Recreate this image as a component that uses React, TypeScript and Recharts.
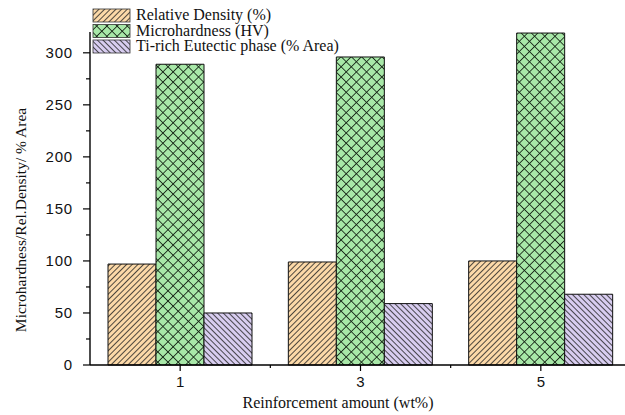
import React from "react";
import { BarChart, Bar, XAxis, YAxis } from "recharts";

// values
const amounts = [1, 3, 5];
const relativeDensity = [97, 99, 100];
const microhardness = [289, 296, 319];
const tiRichEutectic = [50, 59, 68];

const xTicks = [1, 2, 3, 4, 5];
const yTicks = [0, 25, 50, 75, 100, 125, 150, 175, 200, 225, 250, 275, 300];

const series = [
  { key: "density", name: "Relative Density (%)", pattern: "hatchUp" },
  { key: "hardness", name: "Microhardness (HV)", pattern: "crossHatch" },
  { key: "eutectic", name: "Ti-rich Eutectic phase (% Area)", pattern: "hatchDown" },
];

const data = amounts.map((a, i) => ({
  x: a,
  density: relativeDensity[i],
  hardness: microhardness[i],
  eutectic: tiRichEutectic[i],
}));

const sans = "'Liberation Sans', Arial, sans-serif";
const serif = "'Liberation Serif', 'Times New Roman', serif";

function YTick(props: any) {
  const { x, y, payload } = props;
  const v = payload.value;
  const major = v % 50 === 0;
  const ax = x + 17;
  return (
    <g>
      <line x1={ax - (major ? 7 : 4)} x2={ax} y1={y} y2={y} stroke="#000" strokeWidth={1.2} />
      {major && (
        <text x={x} y={y} dy="0.36em" textAnchor="end" fontSize={15} fontFamily={sans} fill="#111" letterSpacing={0.8}>
          {v}
        </text>
      )}
    </g>
  );
}

function XTick(props: any) {
  const { x, y, payload } = props;
  const v = payload.value;
  const major = v % 2 === 1;
  const ay = y - 11;
  return (
    <g>
      <line x1={x} x2={x} y1={ay} y2={ay + (major ? 6 : 3)} stroke="#000" strokeWidth={1.2} />
      {major && (
        <text x={x} y={y} dy="0.75em" textAnchor="middle" fontSize={15} fontFamily={sans} fill="#111">
          {v}
        </text>
      )}
    </g>
  );
}

export default function App() {
  return (
    <div
      style={{
        position: "absolute",
        left: 0,
        top: 0,
        width: 625,
        height: 415,
        overflow: "hidden",
        background: "#fff",
      }}
    >
      <BarChart
        width={640}
        height={415}
        data={data}
        margin={{ top: 32, right: 9, left: 0, bottom: 0 }}
        barGap={0}
      >
        <defs>
          <pattern id="hatchUp" width="4" height="4" patternUnits="userSpaceOnUse" patternTransform="rotate(45)">
            <rect width="4" height="4" fill="#fcd9a8" />
            <line x1="0" y1="0" x2="0" y2="4" stroke="#222" strokeWidth="1.6" />
          </pattern>
          <pattern id="hatchDown" width="4" height="4" patternUnits="userSpaceOnUse" patternTransform="rotate(-45)">
            <rect width="4" height="4" fill="#d8cdf0" />
            <line x1="0" y1="0" x2="0" y2="4" stroke="#222" strokeWidth="1.6" />
          </pattern>
          <pattern id="crossHatch" width="7.2" height="7.2" patternUnits="userSpaceOnUse" patternTransform="rotate(45)">
            <rect width="7.2" height="7.2" fill="#a8e8a8" />
            <line x1="0" y1="0" x2="0" y2="7.2" stroke="#142214" strokeWidth="1.7" />
            <line x1="0" y1="0" x2="7.2" y2="0" stroke="#142214" strokeWidth="1.7" />
          </pattern>
        </defs>
        <XAxis
          dataKey="x"
          type="number"
          domain={[0, 6]}
          ticks={xTicks}
          interval={0}
          height={50}
          tickSize={6}
          tickMargin={5}
          tickLine={false}
          tick={<XTick />}
          axisLine={{ stroke: "#000", strokeWidth: 1.4 }}
        />
        <YAxis
          type="number"
          domain={[0, 320]}
          ticks={yTicks}
          interval={0}
          width={90}
          tickSize={7}
          tickMargin={10}
          tickLine={false}
          tick={<YTick />}
          axisLine={{ stroke: "#000", strokeWidth: 1.4 }}
        />
        {series.map((s) => (
          <Bar
            key={s.key}
            dataKey={s.key}
            name={s.name}
            barSize={48}
            fill={`url(#${s.pattern})`}
            stroke="#111"
            strokeWidth={1}
            isAnimationActive={false}
          />
        ))}
        {series.map((s, i) => (
          <g key={"lg" + s.key}>
            <rect x={93} y={9 + i * 15.5} width={37} height={13} fill={`url(#${s.pattern})`} stroke="#333" strokeWidth={0.8} />
            <text x={136} y={20 + i * 15.5} fontSize={16} fontFamily={serif} fill="#111">
              {s.name}
            </text>
          </g>
        ))}
        <text
          x={0}
          y={0}
          transform="translate(26, 220) rotate(-90)"
          textAnchor="middle"
          fontSize={15.5}
          fontFamily={serif}
          fill="#111"
        >
          Microhardness/Rel.Density/ % Area
        </text>
        <text x={338} y={408} textAnchor="middle" fontSize={16} fontFamily={serif} fill="#111">
          Reinforcement amount (wt%)
        </text>
      </BarChart>
    </div>
  );
}
